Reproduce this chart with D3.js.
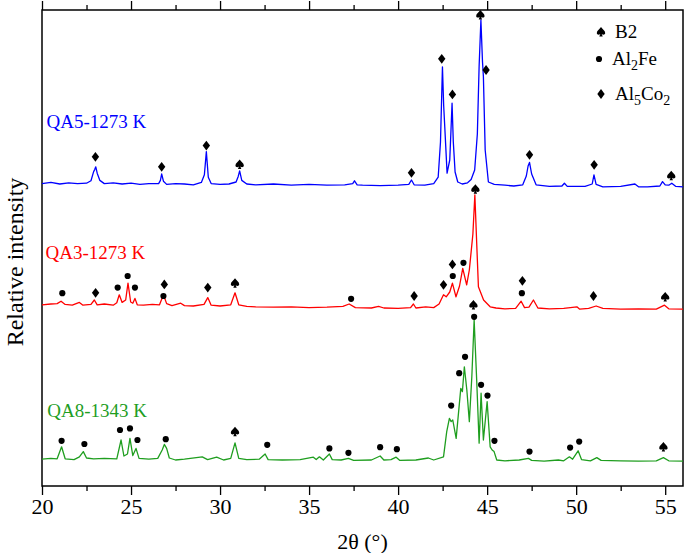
<!DOCTYPE html>
<html>
<head>
<meta charset="utf-8">
<script src="https://cdn.jsdelivr.net/npm/d3@7"></script>
<style>
    body { margin: 0; background: #fff; }
    text { font-family: "Liberation Serif", "Times New Roman", serif; }
</style>
</head>
<body>
<svg id="chart" width="685" height="553"></svg>
<script>
// tick values on the 2theta axis
const majorTicks = [20, 25, 30, 35, 40, 45, 50, 55];
const minorTicks = [22.5, 27.5, 32.5, 37.5, 42.5, 47.5, 52.5];

// sample names and their line colours
const sampleNames = ["QA5-1273 K", "QA3-1273 K", "QA8-1343 K"];
const sampleColors = ["#0000ff", "#ff0000", "#1f9e1f"];
// where each name sits, in [2theta, intensity]
const sampleLabelAt = [[20.25, 89.5], [20.2, 56.8], [20.3, 17.2]];

// traces: [2theta, relative intensity (offset included)]
const qa5 = [
    [20.0, 75.6], [20.5, 75.9], [21.0, 75.5], [21.5, 75.8], [22.0, 75.6], [22.5, 75.7],
    [22.75, 76.3], [22.9, 78.6], [22.96, 79.1], [23.02, 79.8], [23.1, 78.2], [23.25, 76.4],
    [23.5, 75.6], [24.0, 75.8], [24.5, 75.5], [25.0, 75.7], [25.5, 75.4], [26.0, 75.6],
    [26.55, 75.6], [26.65, 76.4], [26.72, 78.0], [26.82, 76.2], [27.0, 75.4], [27.5, 75.6],
    [28.0, 75.5], [28.5, 75.3], [28.95, 75.9], [29.12, 77.8], [29.23, 83.6], [29.34, 77.2],
    [29.5, 75.6], [30.0, 75.4], [30.5, 75.5], [30.9, 76.0], [31.02, 77.4], [31.1, 78.8],
    [31.22, 76.4], [31.5, 75.5], [32.0, 75.3], [33.0, 75.5], [34.0, 75.2], [35.0, 75.4],
    [36.0, 75.2], [37.0, 75.3], [37.45, 75.6], [37.55, 76.3], [37.7, 75.3], [38.0, 75.2],
    [39.0, 75.1], [40.0, 75.2], [40.6, 75.4], [40.75, 76.5], [40.9, 75.3], [41.5, 75.2],
    [42.0, 75.6], [42.25, 77.2], [42.38, 86.0], [42.49, 104.8], [42.56, 95.0], [42.62, 89.8],
    [42.75, 78.2], [42.9, 81.5], [42.97, 89.0], [43.03, 95.7], [43.1, 86.0], [43.2, 78.5],
    [43.35, 76.0], [43.6, 75.5], [43.9, 75.8], [44.1, 76.6], [44.3, 79.0], [44.45, 88.0],
    [44.55, 105.0], [44.65, 116.5], [44.74, 106.0], [44.79, 102.3], [44.89, 84.0], [45.07, 76.0],
    [45.4, 75.4], [46.0, 75.2], [46.5, 75.0], [47.0, 75.3], [47.2, 77.5], [47.3, 80.0],
    [47.38, 80.9], [47.5, 78.0], [47.75, 75.3], [48.5, 74.9], [49.2, 75.0], [49.34, 75.7],
    [49.5, 74.9], [50.5, 74.9], [50.9, 75.5], [51.0, 77.8], [51.12, 75.4], [51.5, 74.8],
    [52.5, 74.9], [53.3, 75.5], [53.5, 74.8], [54.0, 74.8], [54.7, 75.0], [54.85, 76.1],
    [55.0, 75.3], [55.2, 75.2], [55.37, 75.7], [55.6, 74.9], [56.0, 74.8]
];

const qa3 = [
    [20.0, 45.3], [20.5, 45.5], [20.85, 45.6], [21.07, 46.2], [21.3, 45.4], [21.7, 45.2],
    [22.1, 45.9], [22.3, 45.2], [22.75, 45.4], [22.94, 46.5], [23.1, 45.3], [23.5, 45.5],
    [24.0, 45.2], [24.2, 45.8], [24.34, 47.8], [24.5, 45.9], [24.7, 46.5], [24.83, 50.7],
    [24.98, 46.0], [25.1, 45.7], [25.22, 46.9], [25.35, 45.3], [25.7, 45.2], [26.2, 45.4],
    [26.6, 45.3], [26.82, 47.8], [27.0, 45.6], [27.3, 45.1], [27.79, 45.7], [28.0, 45.1],
    [28.5, 45.0], [29.1, 45.4], [29.31, 47.1], [29.5, 45.2], [30.0, 45.0], [30.6, 45.3],
    [30.84, 48.3], [31.05, 45.3], [31.5, 44.9], [32.0, 44.8], [33.0, 44.7], [34.0, 44.8],
    [35.0, 44.6], [36.0, 44.7], [36.9, 44.9], [37.25, 45.5], [37.6, 44.6], [38.5, 44.5],
    [38.9, 44.9], [39.2, 44.5], [40.0, 44.4], [40.7, 44.6], [40.86, 45.5], [41.0, 44.5],
    [41.55, 44.8], [42.0, 44.6], [42.3, 45.5], [42.55, 47.8], [42.7, 47.3], [42.9, 48.5],
    [43.05, 50.7], [43.25, 47.3], [43.45, 50.0], [43.63, 54.4], [43.85, 50.3], [44.0, 54.0],
    [44.2, 63.0], [44.31, 72.8], [44.42, 60.0], [44.51, 49.8], [44.8, 46.5], [45.17, 44.8],
    [45.5, 44.5], [46.0, 44.3], [46.6, 44.4], [46.91, 46.2], [47.1, 44.6], [47.35, 44.7],
    [47.6, 46.5], [47.85, 44.5], [48.5, 44.3], [49.3, 44.4], [50.04, 44.8], [50.2, 44.2],
    [50.7, 44.4], [51.12, 45.0], [51.5, 44.4], [52.5, 44.2], [53.5, 44.3], [54.5, 44.2],
    [54.96, 45.2], [55.2, 44.3], [56.0, 44.2]
];

const qa8 = [
    [20.0, 6.7], [20.5, 6.9], [20.85, 6.8], [21.1, 9.8], [21.3, 6.8], [21.8, 6.6],
    [22.1, 7.3], [22.32, 8.6], [22.5, 7.0], [22.9, 6.8], [23.5, 6.9], [24.2, 6.8],
    [24.44, 11.5], [24.6, 7.5], [24.8, 8.0], [24.94, 11.9], [25.1, 7.6], [25.28, 9.4],
    [25.45, 6.9], [26.0, 6.7], [26.5, 6.9], [26.75, 9.0], [26.87, 10.4], [27.0, 9.4],
    [27.15, 7.0], [27.5, 6.5], [28.0, 6.7], [29.0, 7.3], [29.3, 6.6], [29.81, 7.2],
    [30.2, 6.5], [30.6, 6.9], [30.84, 10.8], [31.05, 6.9], [31.5, 6.6], [32.2, 6.7],
    [32.53, 8.0], [32.7, 6.6], [33.5, 6.5], [34.5, 6.6], [35.24, 7.2], [35.4, 6.6],
    [35.58, 7.3], [35.8, 6.5], [36.14, 8.0], [36.3, 6.6], [36.8, 6.5], [37.21, 6.9],
    [37.5, 6.4], [38.5, 6.5], [38.99, 7.5], [39.2, 6.5], [39.6, 6.6], [39.89, 7.2],
    [40.1, 6.4], [41.0, 6.5], [41.7, 7.0], [42.0, 6.5], [42.55, 7.3], [42.73, 13.6],
    [42.88, 16.9], [42.98, 16.1], [43.07, 16.5], [43.26, 11.9], [43.52, 24.4], [43.61, 23.6],
    [43.72, 29.8], [43.86, 24.0], [44.0, 16.1], [44.14, 27.3], [44.27, 41.5], [44.42, 25.7],
    [44.55, 10.7], [44.66, 23.2], [44.79, 11.5], [45.0, 21.1], [45.17, 9.8], [45.28, 9.0],
    [45.39, 8.6], [45.54, 6.5], [46.0, 6.3], [46.8, 6.5], [47.32, 6.9], [47.5, 6.4],
    [48.2, 6.2], [49.0, 6.5], [49.3, 6.3], [49.62, 7.3], [49.8, 6.7], [50.11, 8.8],
    [50.3, 6.6], [50.8, 6.3], [51.16, 7.1], [51.4, 6.4], [52.5, 6.3], [53.5, 6.2],
    [54.5, 6.3], [54.9, 7.1], [55.2, 6.3], [56.0, 6.2]
];

// phase marks: [2theta, intensity, phase]  s = B2, c = Al2Fe, d = Al5Co2
const qa5Marks = [
    [23.0, 82.3, "d"], [26.72, 79.8, "d"], [29.23, 85.1, "d"], [31.1, 80.4, "s"],
    [40.75, 78.3, "d"], [42.45, 106.8, "d"], [43.05, 97.9, "d"], [44.62, 117.8, "s"],
    [44.94, 104.0, "d"], [47.38, 82.8, "d"], [51.01, 80.3, "d"], [55.34, 77.6, "s"]
];
const qa3Marks = [
    [21.14, 48.2, "c"], [23.01, 48.3, "d"], [24.25, 49.6, "c"], [24.81, 52.5, "c"],
    [25.22, 49.6, "c"], [26.82, 47.5, "c"], [26.87, 50.4, "d"], [29.31, 49.6, "d"],
    [30.84, 50.7, "s"], [37.36, 46.8, "c"], [40.9, 47.5, "d"], [42.55, 50.3, "d"],
    [43.05, 55.4, "d"], [43.07, 52.5, "c"], [43.67, 55.8, "c"], [44.34, 74.2, "s"],
    [46.95, 48.2, "c"], [46.98, 51.3, "d"], [50.97, 47.5, "d"], [55.0, 47.3, "s"]
];
const qa8Marks = [
    [21.1, 11.3, "c"], [22.38, 10.5, "c"], [24.38, 14.0, "c"], [24.94, 14.4, "c"],
    [25.36, 11.5, "c"], [26.95, 11.7, "c"], [30.84, 13.6, "s"], [32.65, 10.3, "c"],
    [36.14, 9.4, "c"], [37.21, 8.3, "c"], [38.99, 9.7, "c"], [39.93, 9.2, "c"],
    [42.98, 20.1, "c"], [43.43, 28.2, "c"], [43.76, 32.3, "c"], [44.23, 45.3, "s"],
    [44.27, 42.3, "c"], [44.66, 25.3, "c"], [45.02, 22.6, "c"], [45.41, 11.3, "c"],
    [47.38, 8.6, "c"], [49.66, 9.6, "c"], [50.17, 11.1, "c"], [54.9, 9.8, "s"]
];

// legend entries
const legendKeys = ["s", "c", "d"];

const series = [qa5, qa3, qa8];
const seriesMarks = [qa5Marks, qa3Marks, qa8Marks];

let svg = d3.select("#chart");

let plot = {left: 42, right: 683, top: 10, bottom: 486};

let x = d3.scaleLinear().domain([20, 56]).range([plot.left, plot.right]);
let y = d3.scaleLinear().domain([0, 119]).range([plot.bottom, plot.top]);

// glyph paths, centred on 0,0
const shapes = {
    s: "M0,-4.9 C-1.4,-2.6 -4.2,-1.3 -4.2,1.1 C-4.2,2.8 -2.1,3.4 -0.7,2.1 L-1.7,4.6 L1.7,4.6 L0.7,2.1 C2.1,3.4 4.2,2.8 4.2,1.1 C4.2,-1.3 1.4,-2.6 0,-4.9 Z",
    c: d3.symbol(d3.symbolCircle, 30)(),
    d: "M0,-4.9 L3.7,0 L0,4.9 L-3.7,0 Z"
};

// axes: major ticks with labels, minor ticks without
let xBottom = d3.axisBottom(x).tickValues(majorTicks).tickSize(9).tickPadding(3);
let xBottomMinor = d3.axisBottom(x).tickValues(minorTicks).tickSize(5).tickFormat("");
let xTop = d3.axisTop(x).tickValues(majorTicks).tickSize(9).tickFormat("");
let xTopMinor = d3.axisTop(x).tickValues(minorTicks).tickSize(5).tickFormat("");

[[xBottom, plot.bottom], [xBottomMinor, plot.bottom], [xTop, plot.top], [xTopMinor, plot.top]].forEach(function (a) {
    let g = svg.append("g")
        .attr("transform", "translate(0," + a[1] + ")")
        .call(a[0]);
    g.select(".domain").remove();
    g.selectAll("line").attr("stroke", "#000").attr("stroke-width", 1.3);
    g.selectAll("text")
        .attr("fill", "#000")
        .style("font-family", '"Liberation Serif", serif')
        .style("font-size", "22px");
});

// frame
svg.append("rect")
    .attr("x", plot.left)
    .attr("y", plot.top)
    .attr("width", plot.right - plot.left)
    .attr("height", plot.bottom - plot.top)
    .attr("fill", "none")
    .attr("stroke", "#000")
    .attr("stroke-width", 1.5);

// traces
let line = d3.line()
    .x(d => x(d[0]))
    .y(d => y(d[1]));

svg.selectAll(".trace")
    .data(series)
    .enter()
    .append("path")
    .attr("class", "trace")
    .attr("d", line)
    .attr("fill", "none")
    .attr("stroke", (d, i) => sampleColors[i])
    .attr("stroke-width", 1.3)
    .attr("stroke-linejoin", "round");

// sample names
svg.selectAll(".sample")
    .data(sampleNames)
    .enter()
    .append("text")
    .attr("class", "sample")
    .attr("x", (d, i) => x(sampleLabelAt[i][0]))
    .attr("y", (d, i) => y(sampleLabelAt[i][1]))
    .attr("fill", (d, i) => sampleColors[i])
    .style("font-size", "19px")
    .text(d => d);

// phase markers
seriesMarks.forEach(function (marks) {
    svg.append("g")
        .selectAll("path")
        .data(marks)
        .enter()
        .append("path")
        .attr("d", d => shapes[d[2]])
        .attr("transform", d => "translate(" + x(d[0]) + "," + y(d[1]) + ")")
        .attr("fill", "#000");
});

// legend
let legend = svg.append("g").attr("transform", "translate(601,0)");
let legendRowY = [32, 59, 94];

legend.selectAll("path")
    .data(legendKeys)
    .enter()
    .append("path")
    .attr("d", d => shapes[d])
    .attr("transform", (d, i) => "translate(" + (i === 1 ? -2 : 0) + "," + legendRowY[i] + ")")
    .attr("fill", "#000");

let b2 = legend.append("text").attr("x", 14).attr("y", 38).style("font-size", "19px");
b2.append("tspan").text("B2");

let alfe = legend.append("text").attr("x", 11).attr("y", 65).style("font-size", "19px");
alfe.append("tspan").text("Al");
alfe.append("tspan").attr("dy", 5).style("font-size", "14px").text("2");
alfe.append("tspan").attr("dy", -5).text("Fe");

let alco = legend.append("text").attr("x", 14).attr("y", 100).style("font-size", "19px");
alco.append("tspan").text("Al");
alco.append("tspan").attr("dy", 5).style("font-size", "14px").text("5");
alco.append("tspan").attr("dy", -5).text("Co");
alco.append("tspan").attr("dy", 5).style("font-size", "14px").text("2");

// axis titles
svg.append("text")
    .attr("x", (plot.left + plot.right) / 2)
    .attr("y", 549)
    .attr("text-anchor", "middle")
    .style("font-size", "22px")
    .text("2θ (°)");

svg.append("text")
    .attr("transform", "translate(23,262) rotate(-90)")
    .attr("text-anchor", "middle")
    .style("font-size", "24px")
    .text("Relative intensity");
</script>
</body>
</html>
